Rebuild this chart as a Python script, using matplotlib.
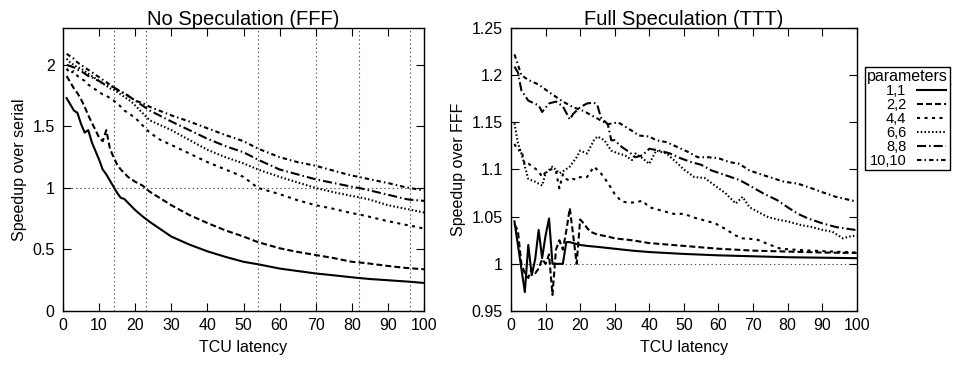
import matplotlib
matplotlib.use("Agg")
import matplotlib.pyplot as plt
from matplotlib.lines import Line2D

plt.rcParams['font.family'] = ['Liberation Sans', 'DejaVu Sans']
plt.rcParams['lines.scale_dashes'] = False

# ---------------- data ----------------
series_labels = ["1,1", "2,2", "4,4", "6,6", "8,8", "10,10"]

# Left panel: speedup over serial (No Speculation, FFF)
left_x = [1, 2, 3, 4, 5, 6, 7, 8, 9, 10, 11, 12, 13, 14, 15, 16, 17, 18, 19, 20,
          22, 24, 27, 30, 35, 40, 45, 50, 54, 60, 65, 70, 75, 80, 82, 85, 90, 95, 96, 100]
left_11 = [1.73, 1.68, 1.63, 1.61, 1.52, 1.45, 1.47, 1.37, 1.30, 1.23, 1.15, 1.11, 1.06, 1.01,
           0.96, 0.92, 0.91, 0.88, 0.85, 0.82, 0.77, 0.725, 0.665, 0.605, 0.54, 0.485, 0.44,
           0.40, 0.38, 0.345, 0.325, 0.305, 0.29, 0.274, 0.268, 0.26, 0.25, 0.24, 0.238, 0.228]
left_22 = [1.91, 1.86, 1.81, 1.77, 1.72, 1.66, 1.59, 1.53, 1.47, 1.41, 1.38, 1.47, 1.32, 1.25,
           1.19, 1.15, 1.12, 1.09, 1.07, 1.05, 1.02, 0.97, 0.915, 0.86, 0.78, 0.715, 0.655,
           0.605, 0.56, 0.51, 0.48, 0.455, 0.43, 0.40, 0.395, 0.385, 0.366, 0.35, 0.348, 0.339]
left_44 = [1.97, 1.93, 1.95, 1.91, 1.89, 1.87, 1.84, 1.82, 1.80, 1.78, 1.76, 1.75, 1.73, 1.71,
           1.69, 1.66, 1.63, 1.61, 1.59, 1.57, 1.51, 1.45, 1.39, 1.35, 1.28, 1.21, 1.15,
           1.09, 1.00, 0.95, 0.90, 0.86, 0.83, 0.795, 0.785, 0.765, 0.73, 0.70, 0.695, 0.67]
left_66 = [2.05, 2.02, 2.00, 1.98, 1.97, 1.95, 1.93, 1.91, 1.89, 1.87, 1.85, 1.83, 1.81, 1.80,
           1.78, 1.76, 1.74, 1.72, 1.70, 1.67, 1.61, 1.55, 1.51, 1.47, 1.39, 1.31, 1.25,
           1.20, 1.15, 1.09, 1.045, 1.00, 0.965, 0.935, 0.925, 0.905, 0.86, 0.83, 0.825, 0.80]
left_88 = [2.00, 1.99, 1.98, 1.96, 1.95, 1.93, 1.91, 1.90, 1.88, 1.87, 1.85, 1.84, 1.83, 1.82,
           1.80, 1.78, 1.77, 1.75, 1.73, 1.71, 1.67, 1.63, 1.585, 1.54, 1.47, 1.40, 1.34,
           1.29, 1.23, 1.15, 1.11, 1.07, 1.04, 1.01, 1.00, 0.98, 0.945, 0.91, 0.905, 0.895]
left_1010 = [2.09, 2.07, 2.05, 2.02, 2.00, 1.98, 1.96, 1.94, 1.92, 1.90, 1.88, 1.86, 1.84, 1.82,
             1.80, 1.78, 1.77, 1.75, 1.73, 1.71, 1.69, 1.66, 1.625, 1.59, 1.54, 1.485, 1.43,
             1.38, 1.32, 1.25, 1.21, 1.18, 1.14, 1.10, 1.09, 1.07, 1.04, 1.005, 1.00, 0.98]
# latencies where each configuration's speedup crosses 1
crossover_latency = [14, 23, 54, 70, 82, 96]

# Right panel: speedup over FFF (Full Speculation, TTT)
r11_x = [1, 2, 3, 4, 5, 6, 7, 8, 9, 10, 11, 12, 13, 14, 15, 16, 17, 18, 19, 20,
         22, 25, 30, 35, 40, 50, 60, 70, 80, 90, 100]
r11_y = [1.045, 1.02, 0.995, 0.970, 1.020, 0.988, 1.005, 1.036, 1.006, 1.030, 1.048, 1.0,
         1.0, 1.0, 1.0, 1.023, 1.023, 1.022, 1.021, 1.020, 1.019, 1.018, 1.016, 1.014,
         1.0125, 1.0105, 1.009, 1.008, 1.007, 1.0065, 1.006]
r22_x = [1, 2, 3, 4, 5, 6, 7, 8, 9, 10, 11, 12, 13, 14, 15, 16, 17, 18, 19, 20, 21, 22,
         23, 25, 28, 30, 35, 40, 50, 60, 70, 80, 90, 100]
r22_y = [1.042, 1.035, 1.0, 0.99, 0.985, 0.995, 0.99, 0.995, 1.005, 1.0, 1.01, 0.967,
         1.015, 1.025, 1.015, 1.035, 1.059, 1.03, 1.0, 1.047, 1.043, 1.038, 1.034, 1.031,
         1.029, 1.027, 1.025, 1.022, 1.019, 1.016, 1.014, 1.013, 1.012, 1.0115]
r44_x = [1, 2, 3, 4, 5, 6, 7, 8, 9, 10, 11, 12, 13, 14, 15, 16, 17, 18, 19, 20, 22, 24,
         26, 28, 30, 32, 34, 36, 38, 40, 43, 47, 50, 53, 56, 59, 62, 65, 67, 71, 75, 78,
         82, 87, 93, 100]
r44_y = [1.127, 1.12, 1.121, 1.105, 1.106, 1.104, 1.101, 1.098, 1.092, 1.097, 1.099,
         1.101, 1.098, 1.08, 1.095, 1.09, 1.088, 1.09, 1.089, 1.092, 1.092, 1.103, 1.096,
         1.086, 1.074, 1.066, 1.065, 1.065, 1.067, 1.06, 1.057, 1.053, 1.053, 1.049,
         1.046, 1.043, 1.037, 1.03, 1.027, 1.026, 1.02, 1.016, 1.015, 1.014, 1.013, 1.012]
r66_x = [1, 2, 3, 5, 7, 9, 10, 12, 14, 15, 17, 19, 20, 22, 24, 25, 27, 29, 31, 33, 35,
         36, 38, 40, 42, 45, 48, 50, 53, 56, 59, 62, 65, 67, 69, 74, 77, 80, 84, 87, 90,
         93, 96, 98, 100]
r66_y = [1.149, 1.128, 1.117, 1.09, 1.087, 1.083, 1.096, 1.103, 1.096, 1.098, 1.103,
         1.113, 1.12, 1.117, 1.131, 1.135, 1.131, 1.12, 1.117, 1.115, 1.11, 1.117, 1.112,
         1.106, 1.12, 1.117, 1.107, 1.10, 1.092, 1.091, 1.083, 1.075, 1.064, 1.071, 1.06,
         1.05, 1.047, 1.045, 1.041, 1.039, 1.036, 1.034, 1.027, 1.029, 1.030]
r88_x = [1, 2, 3, 5, 8, 9, 11, 13, 15, 17, 18, 20, 22, 24, 25, 26, 28, 29, 30, 32, 34,
         36, 38, 40, 43, 46, 49, 52, 55, 58, 62, 66, 69, 73, 77, 80, 83, 86, 90, 94, 100]
r88_y = [1.209, 1.203, 1.184, 1.173, 1.168, 1.161, 1.17, 1.172, 1.167, 1.153, 1.159,
         1.166, 1.17, 1.171, 1.168, 1.155, 1.148, 1.131, 1.131, 1.124, 1.119, 1.113,
         1.115, 1.122, 1.12, 1.117, 1.112, 1.108, 1.105, 1.099, 1.094, 1.089, 1.083,
         1.0746, 1.0675, 1.06, 1.053, 1.048, 1.043, 1.039, 1.0357]
r1010_x = [1, 3, 5, 8, 11, 15, 18, 21, 25, 28, 31, 35, 37, 40, 42, 45, 48, 51, 54, 57,
           60, 63, 66, 69, 73, 76, 79, 83, 87, 90, 94, 100]
r1010_y = [1.222, 1.20, 1.195, 1.19, 1.182, 1.172, 1.166, 1.162, 1.154, 1.148, 1.15,
           1.141, 1.136, 1.135, 1.131, 1.129, 1.124, 1.119, 1.113, 1.113, 1.112, 1.108,
           1.106, 1.099, 1.094, 1.0905, 1.087, 1.085, 1.08, 1.076, 1.071, 1.066]

# ---------------- styles ----------------
dash_styles = ['-', (0, (4.3, 2.2)), (0, (2.2, 3.2)), (0, (1.1, 1.6)),
               (0, (6.5, 2.2, 1.1, 2.2)), (0, (3.2, 2.2, 1.1, 2.2))]
LW = 1.5
TICK_FS = 11.5
LABEL_FS = 11.5
TITLE_FS = 14.5
LEG_FS = 10.5
LEG_TITLE_FS = 11.5

fig = plt.figure(figsize=(9.64, 3.66), dpi=100)
axL = fig.add_axes([63/964, 55/366, 361/964, 283/366])
axR = fig.add_axes([511/964, 55/366, 345.7/964, 283/366])

for ax in (axL, axR):
    ax.tick_params(direction='in', top=True, right=True, length=6, width=0.8,
                   labelsize=TICK_FS, pad=5)
    ax.tick_params(axis='y', pad=6)
    for s in ax.spines.values():
        s.set_linewidth(1.0)
    ax.set_xlim(0, 100)
    ax.set_xticks(range(0, 101, 10))
    ax.set_xlabel("TCU latency", fontsize=LABEL_FS, labelpad=5)

# Left panel
left_series = [left_11, left_22, left_44, left_66, left_88, left_1010]
axL.axhline(1.0, color='#555555', lw=0.8, ls=(0, (1, 2)), zorder=1)
for xc in crossover_latency:
    axL.axvline(xc, color='#555555', lw=0.8, ls=(0, (1, 2)), zorder=1)
for ys, st in zip(left_series, dash_styles):
    axL.plot(left_x, ys, color='black', lw=LW, ls=st, zorder=3)
axL.set_ylim(0, 2.3)
axL.set_yticks([0, 0.5, 1, 1.5, 2])
axL.set_yticklabels(["0", "0.5", "1", "1.5", "2"])
axL.set_ylabel("Speedup over serial", fontsize=LABEL_FS, labelpad=4)
axL.set_title("No Speculation (FFF)", fontsize=TITLE_FS, pad=2)

# Right panel
right_x = [r11_x, r22_x, r44_x, r66_x, r88_x, r1010_x]
right_y = [r11_y, r22_y, r44_y, r66_y, r88_y, r1010_y]
axR.axhline(1.0, color='#555555', lw=0.8, ls=(0, (1, 2)), zorder=1)
handles = []
for xs, ys, st, lab in zip(right_x, right_y, dash_styles, series_labels):
    h, = axR.plot(xs, ys, color='black', lw=LW, ls=st, zorder=3, label=lab)
    handles.append(h)
axR.set_ylim(0.95, 1.25)
axR.set_yticks([0.95, 1.0, 1.05, 1.1, 1.15, 1.2, 1.25])
axR.set_yticklabels(["0.95", "1", "1.05", "1.1", "1.15", "1.2", "1.25"])
axR.set_ylabel("Speedup over FFF", fontsize=LABEL_FS, labelpad=4)
axR.set_title("Full Speculation (TTT)", fontsize=TITLE_FS, pad=2)

leg = fig.legend(handles=handles, labels=series_labels, title="parameters",
                 loc='upper left', bbox_to_anchor=(865/964, 1 - 67/366),
                 markerfirst=False, fontsize=LEG_FS, title_fontsize=LEG_TITLE_FS,
                 labelspacing=0.0, handlelength=2.0, handletextpad=0.7,
                 borderpad=0.15, borderaxespad=0, frameon=True, fancybox=False,
                 framealpha=1, edgecolor='black')
leg.get_frame().set_linewidth(1.0)

fig.canvas.draw()
r = fig.canvas.get_renderer()
fb = leg.get_frame().get_window_extent(r)
tb = leg.get_title().get_window_extent(r)
yline = (tb.y0 + 0.5) / fig.bbox.height
fig.add_artist(Line2D([fb.x0 / fig.bbox.width, fb.x1 / fig.bbox.width], [yline, yline],
                      transform=fig.transFigure, color='black', lw=1.0))

fig.savefig("out.png", dpi=100)
